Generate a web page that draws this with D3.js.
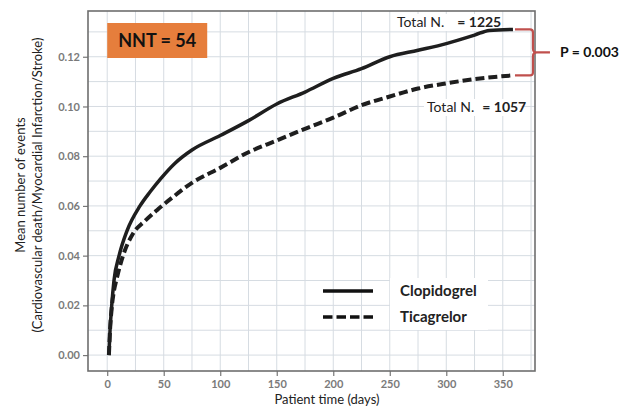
<!DOCTYPE html>
<html lang="en">

<head>
    <script src='https://d3js.org/d3.v7.min.js'></script>
<style>
    body {
        margin: 0;
        background: white;
    }
    text {
        font-family: Lato, "Open Sans", sans-serif;
    }
</style>
</head>

<body>
   <div id="container"></div>
</body>

<script>

    // Mean cumulative events
    const clopDays = [1.5, 2, 2.5, 4, 6, 10.5, 17.5, 29, 38, 47, 60, 75, 100, 125, 150, 175, 200, 225, 250, 275, 300, 325, 338, 359];
    const clopVals = [0, 0.005, 0.01, 0.02, 0.03, 0.04, 0.05, 0.06, 0.0657, 0.0708, 0.0772, 0.0825, 0.0883, 0.0943, 0.101, 0.1058, 0.1113, 0.1152, 0.12, 0.1226, 0.1253, 0.1287, 0.1306, 0.131];

    const ticaDays = [1.5, 2.5, 4, 6, 8, 14, 23, 33, 44, 58, 75, 100, 125, 150, 175, 200, 225, 250, 275, 300, 325, 359];
    const ticaVals = [0, 0.01, 0.019, 0.026, 0.030, 0.040, 0.049, 0.0538, 0.0583, 0.0635, 0.0693, 0.0753, 0.0816, 0.0863, 0.091, 0.0955, 0.1005, 0.104, 0.1072, 0.1093, 0.111, 0.1125];

    const seriesNames = ["Clopidogrel", "Ticagrelor"];
    const totals = [1225, 1057];
    const nnt = 54;
    const pValue = "0.003";

    // Axis ticks
    const xTicks = [0, 50, 100, 150, 200, 250, 300, 350];
    const yTicks = [0, 0.02, 0.04, 0.06, 0.08, 0.10, 0.12];
    const xGrid = d3.range(0, 376, 25);
    const yGrid = d3.range(0, 0.1351, 0.01);

    const width = 629, height = 409;
    var margin = {top: 11, right: 94, bottom: 38, left: 88};

    const svg = d3.select("#container")
                    .append("svg")
                    .attr("width", width)
                    .attr("height", height);

    // Scales
    var x = d3.scaleLinear()
                .domain([-17, 378.5])
                .range([margin.left, width - margin.right]);

    var y = d3.scaleLinear()
                .domain([-0.0064, 0.1384])
                .range([height - margin.bottom, margin.top]);

    // Grid
    svg.append("g")
        .selectAll("line")
        .data(xGrid)
        .join("line")
        .attr("x1", d => x(d)).attr("x2", d => x(d))
        .attr("y1", y.range()[0]).attr("y2", y.range()[1])
        .attr("stroke", "#d6dce2")
        .attr("stroke-width", 1);

    svg.append("g")
        .selectAll("line")
        .data(yGrid)
        .join("line")
        .attr("y1", d => y(d)).attr("y2", d => y(d))
        .attr("x1", x.range()[0]).attr("x2", x.range()[1])
        .attr("stroke", "#d6dce2")
        .attr("stroke-width", 1);

    // Total N labels (white patch under the text, curves and frame drawn on top)
    function totalLabel(xp, yp, n, gap) {
        var g = svg.append("g");
        var patch = g.append("rect").attr("fill", "white");
        var t = g.append("text")
            .attr("x", xp)
            .attr("y", yp)
            .style("font-size", "14px")
            .attr("fill", "#222");
        t.append("tspan").text("Total N.");
        t.append("tspan").attr("dx", gap).style("font-weight", "bold").text("= " + n);
        var len = t.node().getComputedTextLength();
        patch.attr("x", xp - 3).attr("y", yp - 13)
            .attr("width", len + 6).attr("height", 17);
    }
    totalLabel(397, 27, totals[0], 13);
    totalLabel(427, 112, totals[1], 8);

    // Axes
    var xAxis = svg.append("g")
        .attr("transform", "translate(0," + y.range()[0] + ")")
        .call(d3.axisBottom(x).tickValues(xTicks).tickSize(5).tickPadding(4).tickFormat(d3.format("d")));

    var yAxis = svg.append("g")
        .attr("transform", "translate(" + x.range()[0] + ",0)")
        .call(d3.axisLeft(y).tickValues(yTicks).tickSize(5).tickPadding(3).tickFormat(d3.format(".2f")));

    [xAxis, yAxis].forEach(function(a) {
        a.select(".domain").remove();
        a.selectAll(".tick line").attr("stroke", "#777").attr("stroke-width", 1.2);
        a.selectAll(".tick text")
            .attr("fill", "#7a7a7a")
            .style("font-size", "11px")
            .style("font-weight", "bold")
            .style("font-family", "Lato, sans-serif");
    });

    // Frame
    svg.append("rect")
        .attr("x", x.range()[0])
        .attr("y", y.range()[1])
        .attr("width", x.range()[1] - x.range()[0])
        .attr("height", y.range()[0] - y.range()[1])
        .attr("fill", "none")
        .attr("stroke", "#6e6e6e")
        .attr("stroke-width", 1.6);

    // Lines
    var line = d3.line()
        .x(d => x(d[0]))
        .y(d => y(d[1]))
        .curve(d3.curveMonotoneX);

    const clop = clopDays.map((d, i) => [d, clopVals[i]]);
    const tica = ticaDays.map((d, i) => [d, ticaVals[i]]);

    svg.append("path")
        .datum(tica)
        .attr("d", line)
        .attr("fill", "none")
        .attr("stroke", "#1e1e1e")
        .attr("stroke-width", 4)
        .attr("stroke-dasharray", "9,4");

    svg.append("path")
        .datum(clop)
        .attr("d", line)
        .attr("fill", "none")
        .attr("stroke", "#1e1e1e")
        .attr("stroke-width", 3.5);

    // NNT box
    svg.append("rect")
        .attr("x", x(0))
        .attr("y", 23)
        .attr("width", 100)
        .attr("height", 35)
        .attr("fill", "#e67e3c");

    svg.append("text")
        .attr("x", x(0) + 50)
        .attr("y", 47)
        .attr("text-anchor", "middle")
        .style("font-size", "18px")
        .style("font-weight", "bold")
        .attr("fill", "#111")
        .text("NNT = " + nnt);

    // Bracket between end points
    const xEnd = x(clopDays[clopDays.length - 1]) + 2;
    const yT = y(clopVals[clopVals.length - 1]);
    const yB = y(ticaVals[ticaVals.length - 1]);
    const yM = (yT + yB) / 2;
    const bx = xEnd + 18;

    svg.append("path")
        .attr("d", "M" + xEnd + "," + yT + " H" + (bx - 3) +
                   " Q" + bx + "," + yT + " " + bx + "," + (yT + 3) +
                   " V" + (yM - 4) + " Q" + bx + "," + yM + " " + (bx + 4) + "," + yM +
                   " Q" + bx + "," + yM + " " + bx + "," + (yM + 4) +
                   " V" + (yB - 3) + " Q" + bx + "," + yB + " " + (bx - 3) + "," + yB +
                   " H" + xEnd +
                   " M" + (bx + 4) + "," + yM + " H" + (bx + 17))
        .attr("fill", "none")
        .attr("stroke", "#c0504d")
        .attr("stroke-width", 2.2);

    svg.append("text")
        .attr("x", bx + 27)
        .attr("y", yM + 5)
        .style("font-size", "14px")
        .style("font-weight", "bold")
        .attr("fill", "#111")
        .text("P = " + pValue);

    // Legend
    svg.append("rect")
        .attr("x", 390).attr("y", 278)
        .attr("width", 98).attr("height", 52)
        .attr("fill", "white");

    seriesNames.forEach(function(name, i) {
        var ly = 291 + i * 26;
        svg.append("line")
            .attr("x1", 323).attr("x2", 373)
            .attr("y1", ly).attr("y2", ly)
            .attr("stroke", "#111")
            .attr("stroke-width", 3.5)
            .attr("stroke-dasharray", i === 1 ? "9.5,4" : null);
        svg.append("text")
            .attr("x", 400)
            .attr("y", ly + 5)
            .style("font-size", "15px")
            .style("font-weight", "bold")
            .attr("fill", "#222")
            .text(name);
    });

    // Axis titles
    svg.append("text")
        .attr("x", 327)
        .attr("y", 404)
        .attr("text-anchor", "middle")
        .style("font-size", "13px")
        .attr("fill", "#222")
        .text("Patient time (days)");

    svg.append("text")
        .attr("transform", "translate(25,185) rotate(-90)")
        .attr("text-anchor", "middle")
        .style("font-size", "13px")
        .attr("fill", "#222")
        .text("Mean number of events");

    svg.append("text")
        .attr("transform", "translate(42,185) rotate(-90)")
        .attr("text-anchor", "middle")
        .style("font-size", "13px")
        .attr("fill", "#222")
        .text("(Cardiovascular death/Myocardial Infarction/Stroke)");

</script>
</html>
